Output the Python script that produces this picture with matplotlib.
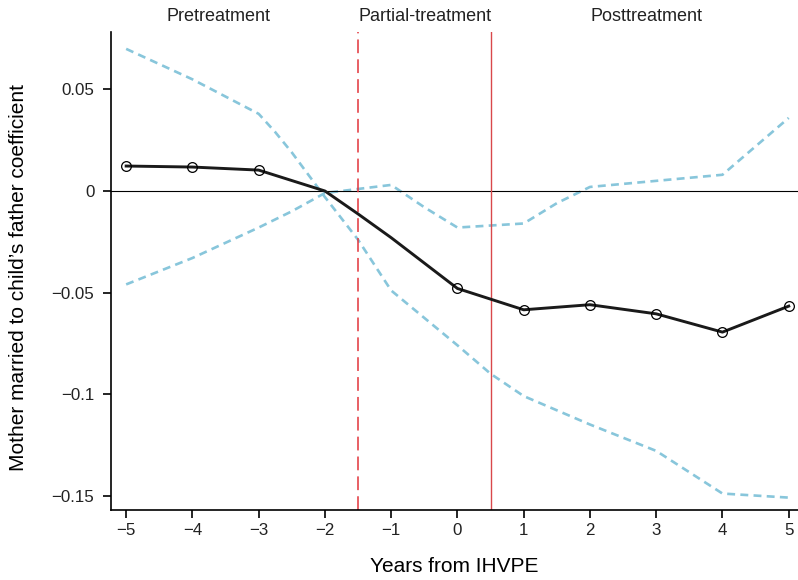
import matplotlib.pyplot as plt

plt.rcParams['font.family'] = ['Liberation Sans', 'DejaVu Sans']
plt.rcParams['text.color'] = '#222222'

# estimate (black line) and confidence bands
line_years = [-5, -4, -3, -2, -1.5, -1, -0.5, 0, 1, 2, 3, 4, 5]
coef = [0.0123, 0.0118, 0.0103, 0.0, -0.0113, -0.023, -0.0355, -0.048,
        -0.0585, -0.056, -0.0605, -0.0695, -0.0567]

marker_years = [-5, -4, -3, 0, 1, 2, 3, 4, 5]
marker_coef = [0.0123, 0.0118, 0.0103, -0.048, -0.0585, -0.056, -0.0605, -0.0695, -0.0567]

band_years = [-5, -4, -3, -2.75, -2.5, -2, -1.5, -1, -0.5, 0, 0.5, 1, 1.5, 2, 3, 4, 5]
band_a = [0.070, 0.055, 0.038, 0.029, 0.019, -0.003, -0.024, -0.049, -0.0625, -0.076,
          -0.090, -0.101, -0.108, -0.115, -0.128, -0.149, -0.151]
band_b = [-0.046, -0.033, -0.018, -0.014, -0.010, -0.001, 0.001, 0.003, -0.008, -0.018,
          -0.017, -0.016, -0.006, 0.002, 0.005, 0.008, 0.036]

period_labels = ['Pretreatment', 'Partial-treatment', 'Posttreatment']
period_x = [-3.6, -0.49, 2.86]

fig = plt.figure(figsize=(7.98, 5.8), dpi=100)
ax = fig.add_axes([0.139, 0.1207, 0.861, 0.8241])

blue = '#88c6db'
ax.plot(band_years, band_a, color=blue, lw=1.9, dashes=(3.0, 2.0))
ax.plot(band_years, band_b, color=blue, lw=1.9, dashes=(3.0, 2.0))

ax.axhline(0, color='black', lw=0.8)
ax.axvline(-1.5, color='#e2343b', lw=1.1, dashes=(9, 4))
ax.axvline(0.5, color='#d9484b', lw=1.0)

ax.plot(line_years, coef, color='#1a1a1a', lw=2.1, zorder=4)
ax.plot(marker_years, marker_coef, 'o', ms=7, mfc='none', mec='black', mew=0.9, zorder=5)

for lab, xp in zip(period_labels, period_x):
    ax.text(xp, 1.033, lab, transform=ax.get_xaxis_transform(),
            ha='center', va='center', fontsize=13)

ax.set_xlim(-5.23, 5.14)
ax.set_ylim(-0.1571, 0.0783)
ax.set_xticks(range(-5, 6))
ax.set_xticklabels(['\u22125', '\u22124', '\u22123', '\u22122', '\u22121', '0', '1', '2', '3', '4', '5'])
ax.set_yticks([-0.15, -0.1, -0.05, 0, 0.05])
ax.set_yticklabels(['\u22120.15', '\u22120.1', '\u22120.05', '0', '0.05'])

for s in ['top', 'right']:
    ax.spines[s].set_visible(False)
for s in ['left', 'bottom']:
    ax.spines[s].set_linewidth(1.2)
ax.tick_params(direction='out', length=6, width=1.2, labelsize=12.2, labelcolor='#222222')
ax.tick_params(axis='y', pad=6)
ax.tick_params(axis='x', pad=3.5)

ax.set_xlabel('Years from IHVPE', fontsize=15)
ax.set_ylabel('Mother married to child\u2019s father coefficient', fontsize=15)
ax.xaxis.set_label_coords(0.5, -0.098)
ax.yaxis.set_label_coords(-0.121, 0.486)

fig.savefig('out.png', dpi=100)
